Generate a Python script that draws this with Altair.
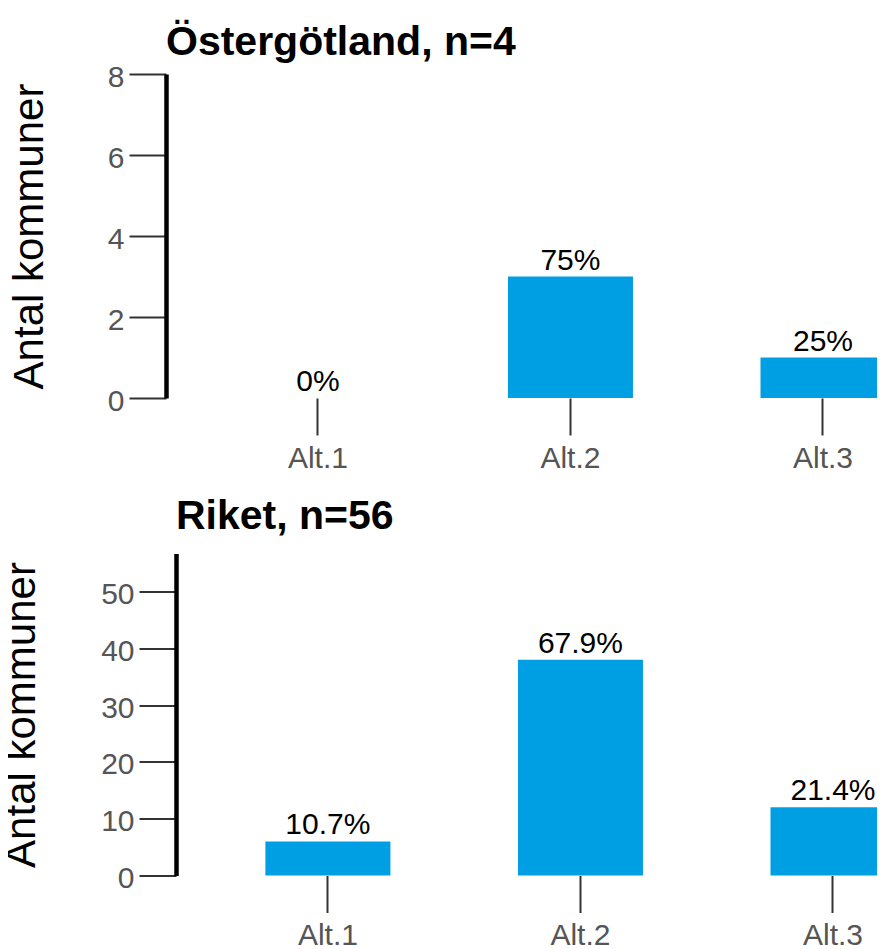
import altair as alt
import pandas as pd

categories = ["Alt.1", "Alt.2", "Alt.3"]
ostergotland_counts = [0, 3, 1]
ostergotland_labels = ["0%", "75%", "25%"]
riket_counts = [6, 38, 12]
riket_labels = ["10.7%", "67.9%", "21.4%"]
top_title = "Östergötland, n=4"
bottom_title = "Riket, n=56"
y_title = "Antal kommuner"
top_ticks = [0, 2, 4, 6, 8]
bottom_ticks = [0, 10, 20, 30, 40, 50]

FONT = "Liberation Sans"
BAR = "#009FE3"


def panel(counts, labels, title, ticks, ymax, height, xrange, yoffset,
          title_pad, title_offset, title_dx):
    df = pd.DataFrame({"cat": categories, "n": counts, "lab": labels})
    sc = dict(paddingInner=0.505, paddingOuter=0.177, align=1, range=xrange)
    x = alt.X(
        "cat:N", sort=categories, scale=alt.Scale(**sc),
        axis=alt.Axis(title=None, domain=False, labelAngle=0, tickSize=37, tickWidth=2,
                      tickColor="#333333", labelColor="#555555", labelFontSize=30,
                      labelFont=FONT, labelPadding=8),
    )
    y = alt.Y(
        "n:Q", scale=alt.Scale(domain=[0, ymax], nice=False, zero=True),
        axis=alt.Axis(title=y_title, values=ticks, grid=False, domainColor="black",
                      domainWidth=4.5, tickSize=37, tickWidth=2, tickColor="#333333",
                      labelColor="#555555", labelFontSize=30, labelFont=FONT,
                      labelPadding=5, labelOffset=3, titleFont=FONT, titleFontSize=42,
                      titleFontWeight="normal", titleColor="black", titlePadding=title_pad,
                      offset=yoffset),
    )
    base = alt.Chart(df)
    bars = base.mark_bar(color=BAR).encode(x=x, y=y)
    text = base.mark_text(font=FONT, fontSize=30, color="black", baseline="alphabetic", dy=-7).encode(
        x=alt.X("cat:N", sort=categories), y="n:Q", text="lab:N"
    )
    return alt.layer(bars, text).properties(
        width=710, height=height,
        title=alt.TitleParams(title, anchor="start", frame="group", font=FONT, fontSize=41,
                              fontWeight="bold", color="black", baseline="alphabetic",
                              offset=title_offset, dx=title_dx),
    )


top = panel(ostergotland_counts, ostergotland_labels, top_title, top_ticks, 8, 324,
            [-10, 709.5], 10, 56, -33.5, -10)
bottom = panel(riket_counts, riket_labels, bottom_title, bottom_ticks, 56.7, 322,
               [0, 719.5], 0, 57, -16.5, 0)

chart = alt.concat(top, bottom, columns=1, spacing=22.5).properties(
    padding={"left": -8, "top": 13, "right": -19, "bottom": 0}
).configure_view(stroke=None)

chart.save("out.html", embed_options={"renderer": "svg", "actions": False})
